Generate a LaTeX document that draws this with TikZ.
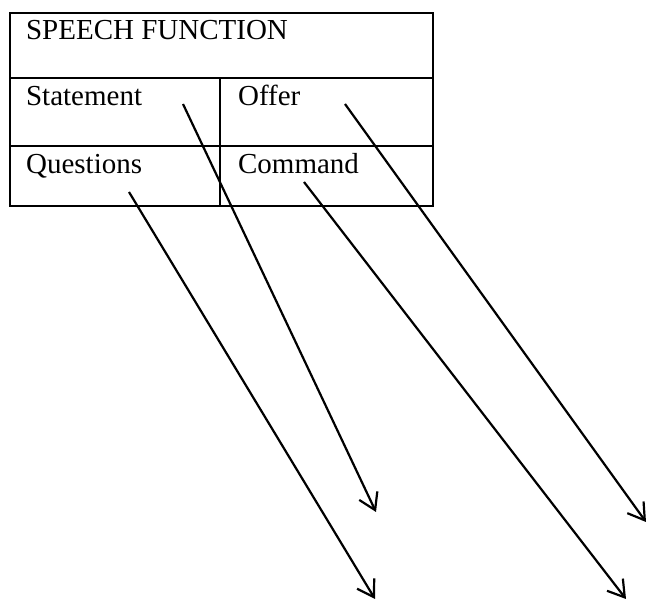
\documentclass[tikz,border=0pt]{standalone}
\usepackage{fontspec}
\setmainfont{Liberation Serif}
\usetikzlibrary{arrows.meta}

\begin{document}
\begin{tikzpicture}[x=0.5pt,y=-0.5pt,line width=1.1pt,
    cell/.style={anchor=base west,inner sep=0pt,font=\fontsize{14.5}{17}\selectfont},
    link/.style={-{Straight Barb[length=8pt,width=10pt]}}]
    \useasboundingbox (0,0) rectangle (649,603);
    % table
    \draw (10,13) rectangle (433,206);
    \draw (10,78) -- (433,78);
    \draw (10,146) -- (433,146);
    \draw (220,78) -- (220,206);

    \node[cell] (title) at (25,40) {SPEECH FUNCTION};
    \node[cell] (statement) at (25,106) {Statement};
    \node[cell] (offer) at (237,106) {Offer};
    \node[cell] (questions) at (25,174) {Questions};
    \node[cell] (command) at (237,174) {Command};

    % arrows
    \coordinate (statementA) at (183,104);
    \coordinate (statementB) at (376,512);
    \coordinate (offerA) at (345,104);
    \coordinate (offerB) at (646,522);
    \coordinate (questionsA) at (129,192);
    \coordinate (questionsB) at (375,599);
    \coordinate (commandA) at (304,182);
    \coordinate (commandB) at (626,599);

    \draw[link] (statementA) -- (statementB);
    \draw[link] (offerA) -- (offerB);
    \draw[link] (questionsA) -- (questionsB);
    \draw[link] (commandA) -- (commandB);
\end{tikzpicture}
\end{document}
